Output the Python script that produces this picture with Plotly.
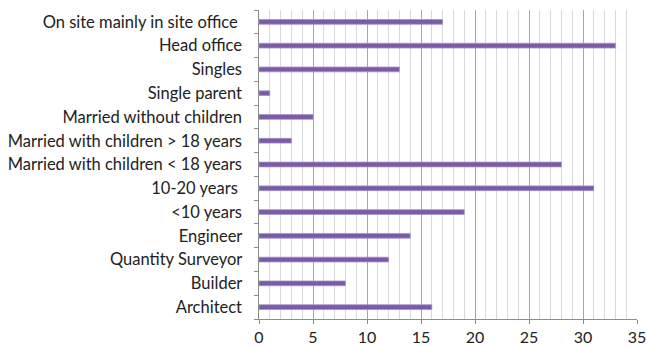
import plotly.graph_objects as go

categories = [
    "Architect",
    "Builder",
    "Quantity Surveyor",
    "Engineer",
    "<10 years",
    "10-20 years ",
    "Married with children < 18 years",
    "Married with children > 18 years",
    "Married without children",
    "Single parent",
    "Singles",
    "Head office",
    "On site mainly in site office ",
]
values = [16, 8, 12, 14, 19, 31, 28, 3, 5, 1, 13, 33, 17]
x_ticks = [0, 5, 10, 15, 20, 25, 30, 35]

fig = go.Figure(
    go.Bar(
        x=values,
        y=categories,
        orientation="h",
        width=0.2,
        marker=dict(color="#7a5ca6", line=dict(color="#a690c8", width=0.8)),
    )
)

fig.update_layout(
    width=647,
    height=346,
    margin=dict(l=259, r=10, t=10, b=27),
    paper_bgcolor="white",
    plot_bgcolor="white",
    showlegend=False,
    font=dict(family="Lato", size=16.5, color="#222222"),
    bargap=0.8,
)
fig.update_xaxes(
    range=[0, 35],
    tickvals=x_ticks,
    ticks="outside",
    ticklen=4,
    tickcolor="#8c8c8c",
    showgrid=True,
    gridcolor="#a6a6a6",
    gridwidth=1,
    minor=dict(dtick=1, showgrid=True, gridcolor="#d9d9d9", gridwidth=1),
    showline=True,
    linecolor="#8c8c8c",
    zeroline=False,
    automargin=False,
    tickfont=dict(size=16, color="#222222"),
)
fig.update_yaxes(
    categoryorder="array",
    categoryarray=categories,
    showline=True,
    linecolor="#8c8c8c",
    ticks="outside",
    ticklen=4,
    tickcolor="#8c8c8c",
    tickson="boundaries",
    showgrid=False,
    automargin=False,
    ticksuffix="   ",
    tickfont=dict(size=16.5, color="#222222"),
)

fig.write_html("out.html")
